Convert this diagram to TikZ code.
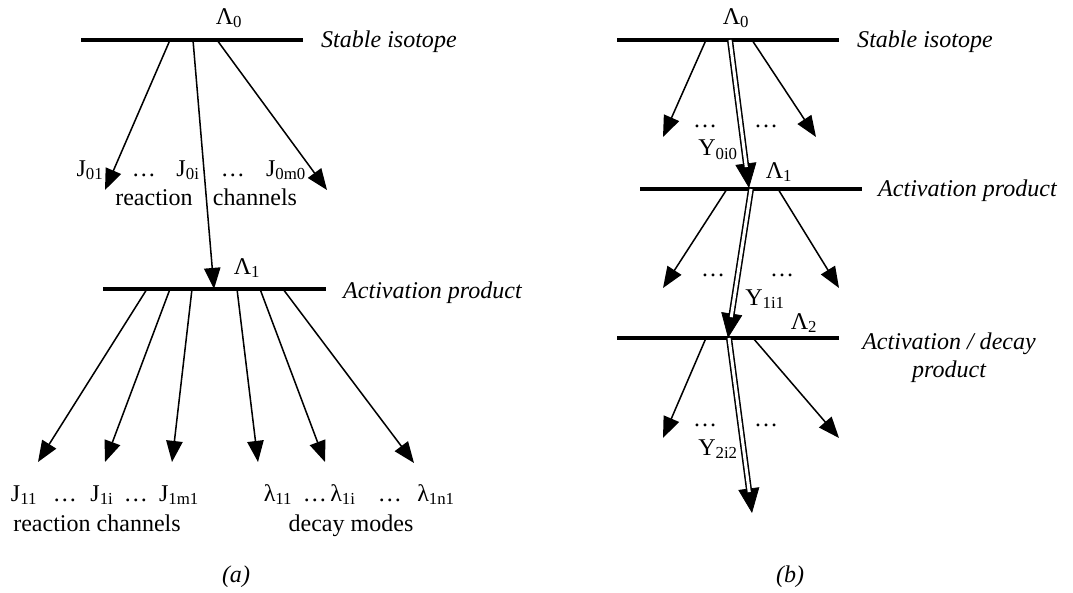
\documentclass[tikz,border=0pt]{standalone}
\usepackage{fontspec}
\setmainfont{Liberation Serif}
\usetikzlibrary{arrows.meta}
\tikzset{
  % level bar
  lvl/.style={line width=4.2pt},
  % thin arrow
  arr/.style={-{Triangle[length=18pt,width=14pt]},line width=1.3pt},
  % double arrow (followed chain): solid tip, then the double shaft over it
  dtip/.style={-{Triangle[length=21pt,width=18pt]},line width=0.6pt},
  dline/.style={double,double distance=2.6pt,line width=1.3pt,shorten >=18pt},
  % labels
  lbl/.style={font=\fontsize{20.5}{24}\selectfont,inner sep=0pt},
  ital/.style={font=\fontsize{20.5}{24}\selectfont\itshape,inner sep=0pt},
}
\newcommand{\sub}[2]{#1\textsubscript{#2}}

\begin{document}
\begin{tikzpicture}[x=0.03cm,y=-0.03cm]
  \useasboundingbox (0,0) rectangle (1073,593);

  % ---------- (a) ----------
  \coordinate (a0l) at (81,40);   \coordinate (a0r) at (303,40);
  \coordinate (a1l) at (103,289); \coordinate (a1r) at (326,289);
  \draw[lvl] (a0l) -- (a0r);
  \draw[lvl] (a1l) -- (a1r);
  \node[lbl] (aL0) at (229,18) {\sub{Λ}{0}};
  \node[ital,anchor=west] (aiso) at (321,42) {Stable isotope};
  \node[lbl] (aL1) at (247,268) {\sub{Λ}{1}};
  \node[ital,anchor=west] (aact) at (343,293) {Activation product};

  \coordinate (as1) at (170,40); \coordinate (at1) at (105,190);
  \coordinate (as2) at (193,40); \coordinate (at2) at (214,289);
  \coordinate (as3) at (217,40); \coordinate (at3) at (327,190);
  \draw[arr] (as1) -- (at1);
  \draw[arr] (as2) -- (at2);
  \draw[arr] (as3) -- (at3);

  \node[lbl,anchor=base] (J01) at (90,176) {\sub{J}{01}};
  \node[lbl,anchor=base] (d01) at (144,176) {\dots};
  \node[lbl,anchor=base] (J0i) at (188,176) {\sub{J}{0i}};
  \node[lbl,anchor=base] (d02) at (233,176) {\dots};
  \node[lbl,anchor=base] (J0m) at (286,176) {\sub{J}{0m0}};
  \node[lbl,anchor=base] (rea0) at (154,205) {reaction};
  \node[lbl,anchor=base] (cha0) at (255,205) {channels};

  \coordinate (bs1) at (147,289); \coordinate (bt1) at (38,462);
  \coordinate (bs2) at (170,289); \coordinate (bt2) at (105,462);
  \coordinate (bs3) at (192,289); \coordinate (bt3) at (172,462);
  \coordinate (bs4) at (237,289); \coordinate (bt4) at (258,462);
  \coordinate (bs5) at (260,289); \coordinate (bt5) at (325,462);
  \coordinate (bs6) at (283,289); \coordinate (bt6) at (414,463);
  \draw[arr] (bs1) -- (bt1);
  \draw[arr] (bs2) -- (bt2);
  \draw[arr] (bs3) -- (bt3);
  \draw[arr] (bs4) -- (bt4);
  \draw[arr] (bs5) -- (bt5);
  \draw[arr] (bs6) -- (bt6);

  \node[lbl,anchor=base] (J11) at (24,501) {\sub{J}{11}};
  \node[lbl,anchor=base] (d11) at (65,501) {\dots};
  \node[lbl,anchor=base] (J1i) at (102,501) {\sub{J}{1i}};
  \node[lbl,anchor=base] (d12) at (136,501) {\dots};
  \node[lbl,anchor=base] (J1m) at (179,501) {\sub{J}{1m1}};
  \node[lbl,anchor=base] (l11) at (278,501) {\sub{λ}{11}};
  \node[lbl,anchor=base] (d13) at (315,501) {\dots};
  \node[lbl,anchor=base] (l1i) at (343,501) {\sub{λ}{1i}};
  \node[lbl,anchor=base] (d14) at (390,501) {\dots};
  \node[lbl,anchor=base] (l1n) at (436,501) {\sub{λ}{1n1}};
  \node[lbl,anchor=base] (rea1) at (97,531) {reaction channels};
  \node[lbl,anchor=base] (dec1) at (351,531) {decay modes};

  \node[ital] (capa) at (236,577) {(a)};

  % ---------- (b) ----------
  \coordinate (c0l) at (617,40);  \coordinate (c0r) at (839,40);
  \coordinate (c1l) at (640,189); \coordinate (c1r) at (862,189);
  \coordinate (c2l) at (617,338); \coordinate (c2r) at (839,338);
  \draw[lvl] (c0l) -- (c0r);
  \draw[lvl] (c1l) -- (c1r);
  \draw[lvl] (c2l) -- (c2r);
  \node[lbl] (bL0) at (736,18) {\sub{Λ}{0}};
  \node[ital,anchor=west] (biso) at (857,42) {Stable isotope};
  \node[lbl] (bL1) at (779,172) {\sub{Λ}{1}};
  \node[ital,anchor=west] (bact) at (878,191) {Activation product};
  \node[lbl] (bL2) at (804,323) {\sub{Λ}{2}};
  \node[ital,align=center] (bdec) at (949,358) {Activation / decay\\product};

  \coordinate (cs1) at (706,40);  \coordinate (ct1) at (663,137);
  \coordinate (cs2) at (752,40);  \coordinate (ct2) at (816,137);
  \coordinate (cs3) at (730,40);  \coordinate (ct3) at (749,188);
  \draw[arr] (cs1) -- (ct1);
  \draw[arr] (cs2) -- (ct2);
  \draw[dtip] (cs3) -- (ct3);
  \draw[dline] (cs3) -- (ct3);
  \node[lbl,anchor=base] (e01) at (705,127) {\dots};
  \node[lbl,anchor=base] (e02) at (766,127) {\dots};
  \node[lbl] (Y0) at (718,150) {\sub{Y}{0i0}};

  \coordinate (ds1) at (727,189); \coordinate (dt1) at (663,288);
  \coordinate (ds2) at (778,189); \coordinate (dt2) at (839,288);
  \coordinate (ds3) at (751,189); \coordinate (dt3) at (728,338);
  \draw[arr] (ds1) -- (dt1);
  \draw[arr] (ds2) -- (dt2);
  \draw[dtip] (ds3) -- (dt3);
  \draw[dline] (ds3) -- (dt3);
  \node[lbl,anchor=base] (e11) at (713,276) {\dots};
  \node[lbl,anchor=base] (e12) at (782,276) {\dots};
  \node[lbl] (Y1) at (765,299) {\sub{Y}{1i1}};

  \coordinate (fs1) at (706,338); \coordinate (ft1) at (663,438);
  \coordinate (fs2) at (753,338); \coordinate (ft2) at (839,438);
  \coordinate (fs3) at (729,338); \coordinate (ft3) at (752,513);
  \draw[arr] (fs1) -- (ft1);
  \draw[arr] (fs2) -- (ft2);
  \draw[dtip] (fs3) -- (ft3);
  \draw[dline] (fs3) -- (ft3);
  \node[lbl,anchor=base] (e21) at (705,426) {\dots};
  \node[lbl,anchor=base] (e22) at (766,426) {\dots};
  \node[lbl] (Y2) at (718,449) {\sub{Y}{2i2}};

  \node[ital] (capb) at (790,577) {(b)};
\end{tikzpicture}
\end{document}
